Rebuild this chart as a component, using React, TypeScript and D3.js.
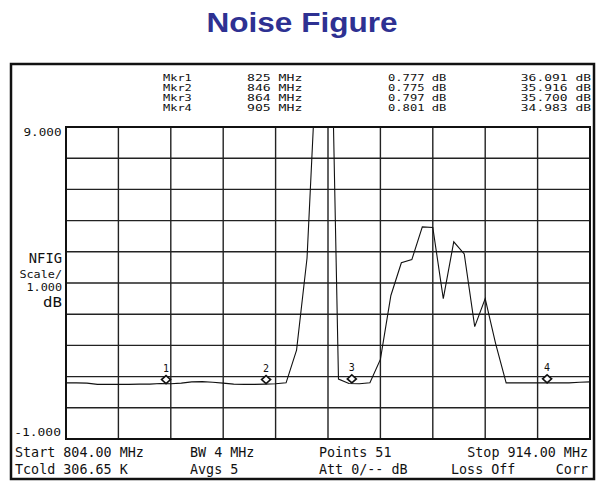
import React from "react";
import * as d3 from "d3";

// Sweep definition (from the instrument annotation)
const START_MHZ = 804;
const STOP_MHZ = 914;
const SWEEP_POINTS = 51;
const Y_MIN = -1;
const Y_MAX = 9;
const X_DIVISIONS = 10;
const Y_DIVISIONS = 10;

// Noise figure trace (dB), one value per sweep point
const nfTrace = [
  0.8, 0.8, 0.79, 0.75, 0.75, 0.75, 0.75, 0.76, 0.76, 0.78,
  0.77, 0.79, 0.83, 0.84, 0.82, 0.79, 0.76, 0.75, 0.75, 0.76,
  0.77, 0.8, 1.85, 4.8, 11.8, 17.9, 0.92, 0.78, 0.77, 0.8,
  1.55, 3.6, 4.65, 4.75, 5.8, 5.78, 3.5, 5.32, 4.93, 2.6,
  3.5, 2.05, 0.8, 0.8, 0.8, 0.8, 0.8, 0.8, 0.8, 0.82, 0.83,
];

// Markers
const markerIds = ["1", "2", "3", "4"];
const markerNames = ["Mkr1", "Mkr2", "Mkr3", "Mkr4"];
const markerFreqs = [825, 846, 864, 905];
const markerNF = [0.777, 0.775, 0.797, 0.801];
const markerGain = [36.091, 35.916, 35.7, 34.983];

// Axis annotation
const yTopLabel = "9.000";
const yBottomLabel = "-1.000";
const yUnitBig1 = "NFIG";
const yUnitSmall1 = "Scale/";
const yUnitSmall2 = "1.000";
const yUnitBig2 = "dB";

// Footer annotation
const footerRow1 = ["Start 804.00 MHz", "BW 4 MHz", "Points 51", "Stop 914.00 MHz"];
const footerRow2 = ["Tcold 306.65 K", "Avgs 5", "Att 0/-- dB", "Loss Off", "Corr"];

const TITLE = "Noise Figure";

const MONO = "'DejaVu Sans Mono', 'Liberation Mono', monospace";

export default function App() {
  const W = 604;
  const H = 482;
  const plot = { left: 66, right: 590, top: 127, bottom: 439 };

  const x = d3.scaleLinear().domain([START_MHZ, STOP_MHZ]).range([plot.left, plot.right]);
  const y = d3.scaleLinear().domain([Y_MIN, Y_MAX]).range([plot.bottom, plot.top]);

  const step = (STOP_MHZ - START_MHZ) / (SWEEP_POINTS - 1);
  const freqs = d3.range(SWEEP_POINTS).map((i) => START_MHZ + i * step);
  const line = d3
    .line<number>()
    .x((_, i) => x(freqs[i]))
    .y((d) => y(d));

  const xGrid = d3.range(X_DIVISIONS + 1).map((i) => START_MHZ + (i * (STOP_MHZ - START_MHZ)) / X_DIVISIONS);
  const yGrid = d3.range(Y_DIVISIONS + 1).map((i) => Y_MIN + (i * (Y_MAX - Y_MIN)) / Y_DIVISIONS);

  const bigFont = 14;
  const bigCW = 8.05;

  const T = (props: {
    x: number;
    y: number;
    text: string;
    big?: boolean;
    size?: number;
    anchor?: "start" | "end" | "middle";
    cw?: number;
  }) => {
    const cw = props.cw ?? (props.big ? bigCW : 7.4);
    const fs = props.size ?? (props.big ? bigFont : 11);
    return (
      <text
        x={props.x}
        y={props.y}
        fontFamily={MONO}
        fontSize={fs}
        textAnchor={props.anchor ?? "start"}
        textLength={props.text.length * cw}
        lengthAdjust="spacingAndGlyphs"
        fill="#111"
        style={{ whiteSpace: "pre" }}
      >
        {props.text}
      </text>
    );
  };

  const headerBaselines = [81, 91, 101, 111];
  const headerSize = 8.6;
  const footerX1 = [15, 190, 319];
  const footerX2 = [15, 190, 319, 451];

  return (
    <svg
      width={W}
      height={H}
      viewBox={`0 0 ${W} ${H}`}
      style={{ position: "absolute", left: 0, top: 0, background: "#fff" }}
    >
      <defs>
        <clipPath id="plotClip">
          <rect x={plot.left} y={plot.top} width={plot.right - plot.left} height={plot.bottom - plot.top} />
        </clipPath>
      </defs>

      {/* Title */}
      <text
        x={W / 2}
        y={32}
        textAnchor="middle"
        fontFamily="'Liberation Sans', Arial, sans-serif"
        fontWeight="bold"
        fontSize={28}
        fill="#2e3192"
        textLength={191}
        lengthAdjust="spacingAndGlyphs"
      >
        {TITLE}
      </text>

      {/* Outer instrument frame */}
      <rect x={11} y={64} width={583} height={415} fill="#fff" stroke="#111" strokeWidth={2.5} />

      {/* Header marker table */}
      {markerNames.map((m, i) => (
        <g key={m}>
          <T x={163} y={headerBaselines[i]} text={m} cw={7.2} size={headerSize} />
          <T x={247} y={headerBaselines[i]} text={`${markerFreqs[i]} MHz`} cw={7.9} size={headerSize} />
          <T x={388} y={headerBaselines[i]} text={`${markerNF[i].toFixed(3)} dB`} cw={7.3} size={headerSize} />
          <T
            x={591}
            y={headerBaselines[i]}
            text={`${markerGain[i].toFixed(3)} dB`}
            anchor="end"
            cw={7.8}
            size={headerSize}
          />
        </g>
      ))}

      {/* Grid */}
      <g stroke="#222" strokeWidth={1.4}>
        {xGrid.map((f) => (
          <line key={`x${f}`} x1={x(f)} x2={x(f)} y1={plot.top} y2={plot.bottom} />
        ))}
        {yGrid.map((v) => (
          <line key={`y${v}`} x1={plot.left} x2={plot.right} y1={y(v)} y2={y(v)} />
        ))}
      </g>

      {/* Trace */}
      <path d={line(nfTrace) ?? ""} fill="none" stroke="#111" strokeWidth={1.1} clipPath="url(#plotClip)" />

      {/* Plot frame */}
      <rect
        x={plot.left}
        y={plot.top}
        width={plot.right - plot.left}
        height={plot.bottom - plot.top}
        fill="none"
        stroke="#111"
        strokeWidth={2}
      />

      {/* Markers */}
      {markerIds.map((id, i) => {
        const cx = x(markerFreqs[i]);
        const cy = y(markerNF[i]) - 4;
        return (
          <g key={id}>
            <path
              d={`M${cx},${cy - 4}L${cx + 4.5},${cy}L${cx},${cy + 4}L${cx - 4.5},${cy}Z`}
              fill="#fff"
              stroke="#111"
              strokeWidth={1.6}
            />
            <text x={cx} y={cy - 7.5} textAnchor="middle" fontFamily={MONO} fontSize={10} fill="#111">
              {id}
            </text>
          </g>
        );
      })}

      {/* Y annotations */}
      <T x={61.5} y={136} text={yTopLabel} anchor="end" cw={7.6} />
      <T x={61} y={436} text={yBottomLabel} anchor="end" cw={7.8} />
      <T x={62} y={262.7} text={yUnitBig1} anchor="end" big cw={8.3} />
      <T x={62} y={278.3} text={yUnitSmall1} anchor="end" cw={7.1} />
      <T x={62} y={290.7} text={yUnitSmall2} anchor="end" cw={7.1} />
      <T x={62} y={306.7} text={yUnitBig2} anchor="end" big cw={9.5} />

      {/* Footer */}
      {footerRow1.map((s, i) =>
        i < footerX1.length ? (
          <T key={s} x={footerX1[i]} y={456.5} text={s} big />
        ) : (
          <T key={s} x={588} y={456.5} text={s} big anchor="end" />
        )
      )}
      {footerRow2.map((s, i) =>
        i < footerX2.length ? (
          <T key={s} x={footerX2[i]} y={474} text={s} big />
        ) : (
          <T key={s} x={588} y={474} text={s} big anchor="end" />
        )
      )}
    </svg>
  );
}
